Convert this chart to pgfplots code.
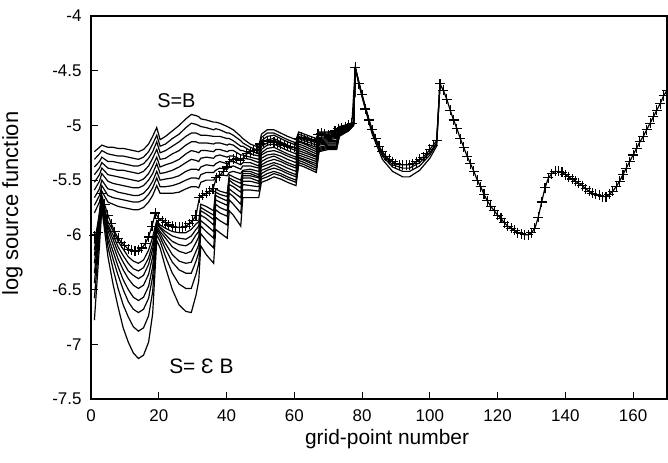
\documentclass[border=0pt]{standalone}
\usepackage{pgfplots}
\pgfplotsset{compat=1.18}
\usepackage{pgfplotstable}
\usepackage{fontspec}
\setmainfont{Liberation Sans}

% family of source functions, top (S=B) to bottom (S=eps B)
\pgfplotstableread{
x c0 c1 c2 c3 c4 c5 c6 c7 c8 c9 c10 c11 c12 c13 c14 c15 c16
1 -5.24 -5.31 -5.38 -5.45 -5.52 -5.59 -5.66 -5.73 -5.80 -6.08 -6.14 -6.19 -6.26 -6.35 -6.44 -6.58 -6.78
2.5 -5.20 -5.26 -5.33 -5.39 -5.45 -5.51 -5.58 -5.64 -5.70 -5.80 -5.82 -5.85 -5.88 -5.92 -5.96 -6.01 -6.10
3.2 -5.18 -5.23 -5.29 -5.34 -5.39 -5.44 -5.50 -5.55 -5.60 -5.66 -5.67 -5.68 -5.69 -5.70 -5.71 -5.73 -5.76
5 -5.20 -5.26 -5.33 -5.39 -5.45 -5.51 -5.58 -5.64 -5.70 -5.88 -5.91 -5.93 -5.96 -6.01 -6.05 -6.11 -6.20
6.5 -5.20 -5.27 -5.33 -5.40 -5.46 -5.53 -5.59 -5.66 -5.72 -5.96 -6.00 -6.04 -6.09 -6.15 -6.22 -6.31 -6.45
8 -5.21 -5.28 -5.34 -5.41 -5.47 -5.54 -5.61 -5.67 -5.74 -6.06 -6.11 -6.16 -6.22 -6.29 -6.37 -6.49 -6.66
9.5 -5.21 -5.28 -5.35 -5.41 -5.48 -5.55 -5.62 -5.68 -5.75 -6.13 -6.19 -6.25 -6.32 -6.41 -6.50 -6.64 -6.85
11 -5.22 -5.29 -5.36 -5.42 -5.49 -5.56 -5.63 -5.69 -5.76 -6.20 -6.26 -6.33 -6.40 -6.50 -6.61 -6.75 -6.98
12.5 -5.23 -5.30 -5.37 -5.43 -5.50 -5.57 -5.64 -5.70 -5.77 -6.24 -6.31 -6.37 -6.46 -6.57 -6.68 -6.84 -7.08
14 -5.24 -5.31 -5.37 -5.44 -5.51 -5.57 -5.64 -5.70 -5.77 -6.26 -6.33 -6.40 -6.49 -6.60 -6.71 -6.88 -7.13
15.5 -5.22 -5.29 -5.35 -5.42 -5.49 -5.55 -5.62 -5.68 -5.75 -6.23 -6.30 -6.37 -6.46 -6.57 -6.68 -6.85 -7.10
17 -5.17 -5.24 -5.30 -5.37 -5.44 -5.50 -5.57 -5.63 -5.70 -6.14 -6.21 -6.27 -6.36 -6.47 -6.58 -6.74 -6.98
18.2 -5.10 -5.17 -5.24 -5.30 -5.37 -5.44 -5.51 -5.57 -5.64 -6.02 -6.08 -6.13 -6.20 -6.29 -6.38 -6.52 -6.72
19.4 -5.02 -5.09 -5.15 -5.22 -5.29 -5.35 -5.42 -5.48 -5.55 -5.87 -5.88 -5.90 -5.92 -5.94 -5.96 -6.00 -6.05
20.4 -5.13 -5.19 -5.25 -5.31 -5.38 -5.44 -5.50 -5.56 -5.62 -5.91 -5.93 -5.94 -5.97 -5.99 -6.02 -6.06 -6.12
22 -5.10 -5.17 -5.23 -5.30 -5.36 -5.43 -5.49 -5.56 -5.62 -5.94 -5.97 -6.00 -6.03 -6.08 -6.13 -6.20 -6.30
24 -5.05 -5.12 -5.19 -5.26 -5.34 -5.41 -5.48 -5.55 -5.62 -5.97 -6.01 -6.06 -6.11 -6.18 -6.25 -6.35 -6.50
26 -5.00 -5.08 -5.15 -5.23 -5.31 -5.38 -5.46 -5.53 -5.61 -5.98 -6.03 -6.09 -6.15 -6.24 -6.32 -6.45 -6.64
28 -4.94 -5.02 -5.10 -5.18 -5.26 -5.34 -5.42 -5.50 -5.58 -5.98 -6.04 -6.10 -6.17 -6.26 -6.35 -6.49 -6.70
29.6 -4.90 -4.98 -5.07 -5.15 -5.23 -5.31 -5.40 -5.48 -5.56 -5.95 -6.01 -6.07 -6.15 -6.25 -6.35 -6.49 -6.71
31 -4.91 -4.99 -5.07 -5.15 -5.24 -5.32 -5.40 -5.48 -5.56 -5.90 -5.95 -6.00 -6.07 -6.15 -6.24 -6.36 -6.55
31.8 -4.92 -5.00 -5.08 -5.16 -5.25 -5.33 -5.41 -5.49 -5.57 -5.88 -5.92 -5.97 -6.02 -6.09 -6.16 -6.26 -6.42
32.4 -4.94 -5.01 -5.09 -5.16 -5.23 -5.30 -5.38 -5.45 -5.52 -5.72 -5.75 -5.78 -5.82 -5.87 -5.92 -5.99 -6.10
34 -4.95 -5.02 -5.09 -5.16 -5.23 -5.29 -5.36 -5.43 -5.50 -5.74 -5.78 -5.81 -5.85 -5.91 -5.97 -6.05 -6.18
36.2 -4.97 -5.04 -5.10 -5.17 -5.24 -5.30 -5.37 -5.43 -5.50 -5.78 -5.82 -5.86 -5.91 -5.97 -6.03 -6.12 -6.26
36.8 -4.97 -5.03 -5.10 -5.16 -5.22 -5.28 -5.35 -5.41 -5.47 -5.58 -5.61 -5.64 -5.68 -5.72 -5.77 -5.84 -5.95
38 -4.98 -5.04 -5.10 -5.16 -5.22 -5.27 -5.33 -5.39 -5.45 -5.60 -5.63 -5.66 -5.70 -5.75 -5.80 -5.87 -5.98
40.2 -5.01 -5.07 -5.12 -5.18 -5.24 -5.29 -5.35 -5.40 -5.46 -5.62 -5.65 -5.69 -5.73 -5.78 -5.83 -5.91 -6.03
40.8 -5.02 -5.07 -5.12 -5.17 -5.23 -5.28 -5.33 -5.38 -5.43 -5.45 -5.48 -5.50 -5.54 -5.58 -5.62 -5.68 -5.78
42 -5.04 -5.09 -5.14 -5.18 -5.23 -5.28 -5.33 -5.37 -5.42 -5.47 -5.50 -5.53 -5.56 -5.61 -5.65 -5.72 -5.82
44.2 -5.10 -5.14 -5.19 -5.23 -5.27 -5.31 -5.36 -5.40 -5.44 -5.50 -5.53 -5.57 -5.61 -5.66 -5.72 -5.80 -5.92
44.8 -5.12 -5.16 -5.19 -5.23 -5.27 -5.30 -5.34 -5.37 -5.41 -5.42 -5.44 -5.46 -5.48 -5.51 -5.54 -5.59 -5.66
47 -5.17 -5.20 -5.23 -5.26 -5.29 -5.31 -5.34 -5.37 -5.40 -5.42 -5.44 -5.46 -5.48 -5.51 -5.55 -5.59 -5.66
49.5 -5.20 -5.23 -5.26 -5.28 -5.31 -5.34 -5.37 -5.39 -5.42 -5.45 -5.47 -5.48 -5.51 -5.53 -5.56 -5.60 -5.66
50.3 -5.08 -5.11 -5.14 -5.16 -5.19 -5.22 -5.25 -5.27 -5.30 -5.33 -5.36 -5.38 -5.41 -5.44 -5.47 -5.49 -5.52
52 -5.04 -5.07 -5.10 -5.13 -5.16 -5.18 -5.21 -5.24 -5.27 -5.30 -5.33 -5.36 -5.39 -5.41 -5.44 -5.47 -5.50
54 -5.04 -5.07 -5.09 -5.12 -5.15 -5.17 -5.20 -5.23 -5.26 -5.28 -5.31 -5.34 -5.36 -5.39 -5.42 -5.44 -5.47
56 -5.07 -5.10 -5.12 -5.15 -5.17 -5.20 -5.23 -5.25 -5.28 -5.31 -5.33 -5.36 -5.39 -5.41 -5.44 -5.46 -5.49
58 -5.10 -5.13 -5.15 -5.18 -5.20 -5.23 -5.26 -5.28 -5.31 -5.34 -5.36 -5.39 -5.42 -5.44 -5.47 -5.49 -5.52
60.5 -5.13 -5.16 -5.18 -5.21 -5.23 -5.26 -5.29 -5.31 -5.34 -5.37 -5.39 -5.42 -5.45 -5.47 -5.50 -5.52 -5.55
61.3 -5.06 -5.08 -5.10 -5.12 -5.14 -5.15 -5.17 -5.19 -5.21 -5.23 -5.25 -5.27 -5.29 -5.30 -5.32 -5.34 -5.36
63 -5.08 -5.10 -5.12 -5.14 -5.16 -5.17 -5.19 -5.21 -5.23 -5.25 -5.27 -5.29 -5.31 -5.32 -5.34 -5.36 -5.38
66.5 -5.12 -5.14 -5.16 -5.18 -5.20 -5.22 -5.24 -5.26 -5.28 -5.29 -5.31 -5.33 -5.35 -5.37 -5.39 -5.41 -5.43
67.3 -5.06 -5.07 -5.08 -5.09 -5.11 -5.12 -5.13 -5.14 -5.15 -5.16 -5.17 -5.18 -5.20 -5.21 -5.22 -5.23 -5.24
70 -5.06 -5.07 -5.08 -5.09 -5.10 -5.11 -5.12 -5.13 -5.14 -5.15 -5.16 -5.17 -5.18 -5.19 -5.20 -5.21 -5.22
72.5 -5.05 -5.06 -5.07 -5.08 -5.09 -5.10 -5.11 -5.12 -5.14 -5.15 -5.16 -5.17 -5.18 -5.19 -5.20 -5.21 -5.22
73.3 -5.01 -5.02 -5.02 -5.03 -5.03 -5.04 -5.04 -5.05 -5.06 -5.06 -5.07 -5.07 -5.08 -5.08 -5.09 -5.09 -5.10
76 -4.99 -4.99 -5.00 -5.00 -5.01 -5.01 -5.01 -5.02 -5.02 -5.02 -5.03 -5.03 -5.03 -5.04 -5.04 -5.05 -5.05
77.5 -4.97 -4.97 -4.97 -4.98 -4.98 -4.98 -4.98 -4.98 -4.99 -4.99 -4.99 -4.99 -4.99 -4.99 -5.00 -5.00 -5.00
78 -4.47 -4.47 -4.47 -4.47 -4.47 -4.47 -4.47 -4.47 -4.47 -4.47 -4.47 -4.47 -4.47 -4.47 -4.47 -4.47 -4.47
}\family

% lines that stay below the crosses between the two peaks
\pgfplotstableread{
x a b c
78 -4.47 -4.47 -4.47
80 -4.72 -4.73 -4.74
83 -5.05 -5.06 -5.08
86 -5.26 -5.28 -5.31
89 -5.36 -5.38 -5.42
92 -5.39 -5.42 -5.47
94 -5.39 -5.42 -5.47
97 -5.34 -5.37 -5.41
100 -5.25 -5.27 -5.30
102 -5.16 -5.17 -5.19
103 -4.62 -4.62 -4.62
}\extra

% converged solution, one value per grid point
\pgfplotstableread[row sep=\\]{
x y\\
1 -6.01\\ 2 -5.98\\ 3 -5.62\\ 4 -5.72\\ 5 -5.82\\ 6 -5.90\\ 7 -5.97\\ 8 -6.03\\ 9 -6.07\\ 10 -6.10\\
11 -6.13\\ 12 -6.14\\ 13 -6.15\\ 14 -6.14\\ 15 -6.12\\ 16 -6.08\\ 17 -6.02\\ 18 -5.92\\ 19 -5.80\\ 20 -5.85\\
21 -5.87\\ 22 -5.89\\ 23 -5.91\\ 24 -5.92\\ 25 -5.93\\ 26 -5.93\\ 27 -5.93\\ 28 -5.92\\ 29 -5.90\\ 30 -5.87\\
31 -5.82\\ 32 -5.66\\ 33 -5.64\\ 34 -5.62\\ 35 -5.60\\ 36 -5.58\\ 37 -5.48\\ 38 -5.46\\ 39 -5.42\\ 40 -5.38\\
41 -5.33\\ 42 -5.31\\ 43 -5.30\\ 44 -5.32\\ 45 -5.30\\ 46 -5.26\\ 47 -5.24\\ 48 -5.23\\ 49 -5.22\\ 50 -5.17\\
51 -5.15\\ 52 -5.14\\ 53 -5.14\\ 54 -5.15\\ 55 -5.16\\ 56 -5.17\\ 57 -5.18\\ 58 -5.19\\ 59 -5.20\\ 60 -5.20\\
61 -5.12\\ 62 -5.11\\ 63 -5.12\\ 64 -5.13\\ 65 -5.14\\ 66 -5.15\\ 67 -5.08\\ 68 -5.07\\ 69 -5.08\\ 70 -5.09\\
71 -5.10\\ 72 -5.05\\ 73 -5.03\\ 74 -5.02\\ 75 -5.01\\ 76 -5.00\\ 77 -4.98\\ 78 -4.47\\ 79 -4.62\\ 80 -4.72\\
81 -4.85\\ 82 -4.95\\ 83 -5.04\\ 84 -5.12\\ 85 -5.19\\ 86 -5.24\\ 87 -5.28\\ 88 -5.31\\ 89 -5.33\\ 90 -5.35\\
91 -5.36\\ 92 -5.36\\ 93 -5.36\\ 94 -5.36\\ 95 -5.35\\ 96 -5.33\\ 97 -5.31\\ 98 -5.29\\ 99 -5.26\\ 100 -5.22\\
101 -5.18\\ 102 -5.14\\ 103 -4.62\\ 104 -4.68\\ 105 -4.76\\ 106 -4.86\\ 107 -4.95\\ 108 -5.03\\ 109 -5.12\\ 110 -5.20\\
111 -5.28\\ 112 -5.35\\ 113 -5.42\\ 114 -5.50\\ 115 -5.56\\ 116 -5.63\\ 117 -5.69\\ 118 -5.74\\ 119 -5.78\\ 120 -5.82\\
121 -5.85\\ 122 -5.89\\ 123 -5.92\\ 124 -5.94\\ 125 -5.96\\ 126 -5.98\\ 127 -5.99\\ 128 -6.00\\ 129 -6.00\\ 130 -5.98\\
131 -5.94\\ 132 -5.84\\ 133 -5.70\\ 134 -5.57\\ 135 -5.48\\ 136 -5.44\\ 137 -5.42\\ 138 -5.42\\ 139 -5.43\\ 140 -5.45\\
141 -5.47\\ 142 -5.49\\ 143 -5.51\\ 144 -5.53\\ 145 -5.55\\ 146 -5.58\\ 147 -5.60\\ 148 -5.62\\ 149 -5.63\\ 150 -5.64\\
151 -5.65\\ 152 -5.65\\ 153 -5.63\\ 154 -5.60\\ 155 -5.56\\ 156 -5.51\\ 157 -5.45\\ 158 -5.39\\ 159 -5.33\\ 160 -5.27\\
161 -5.21\\ 162 -5.15\\ 163 -5.10\\ 164 -5.04\\ 165 -4.98\\ 166 -4.92\\ 167 -4.86\\ 168 -4.80\\ 169 -4.73\\ 170 -4.68\\
}\plus

\begin{document}
\begin{tikzpicture}
\begin{axis}[
  width=576bp, height=383bp, scale only axis,
  xmin=0, xmax=170, ymin=-7.5, ymax=-4,
  xtick={0,20,40,60,80,100,120,140,160},
  xticklabels={0,20,40,60,80,100,120,140,160},
  ytick={-7.5,-7,-6.5,-6,-5.5,-5,-4.5,-4},
  yticklabels={-7.5,-7,-6.5,-6,-5.5,-5,-4.5,-4},
  xtick pos=left, ytick pos=left,
  tick align=inside, major tick length=7bp,
  tick style={black, line width=1pt},
  axis line style={line width=1.5pt},
  ticklabel style={font=\fontsize{17}{19}\selectfont},
  xticklabel style={yshift=-7bp},
  yticklabel style={xshift=-6bp},
  xlabel={grid-point number},
  ylabel={log source function},
  xlabel style={font=\fontsize{21}{23}\selectfont, at={(axis description cs:0.514,-0.07)}, anchor=north},
  ylabel style={font=\fontsize{22}{24}\selectfont, at={(axis description cs:-0.1267,0.51)}, anchor=base, inner sep=0pt},
]
\pgfplotsinvokeforeach{1,...,17}{
  \addplot[black, line width=1.2pt] table[x index=0, y index=#1] {\family};
}
\addplot[black, line width=1.2pt] table[x=x, y=a] {\extra};
\addplot[black, line width=1.2pt] table[x=x, y=b] {\extra};
\addplot[black, line width=1.2pt] table[x=x, y=c] {\extra};
\addplot[black, line width=1.2pt, mark=+, mark size=5bp, mark options={line width=1.1pt}] table[x=x, y=y] {\plus};

\node[font=\fontsize{20}{22}\selectfont] at (axis cs:25.2,-4.77) {S=B};
\node[font=\fontsize{21}{23}\selectfont] at (axis cs:32.6,-7.2) {S= Ɛ B};
\end{axis}
\pgfresetboundingbox
\path[use as bounding box] ([shift={(-91bp,-64bp)}]current axis.south west) rectangle ([shift={(1bp,16bp)}]current axis.north east);
\end{tikzpicture}
\end{document}
